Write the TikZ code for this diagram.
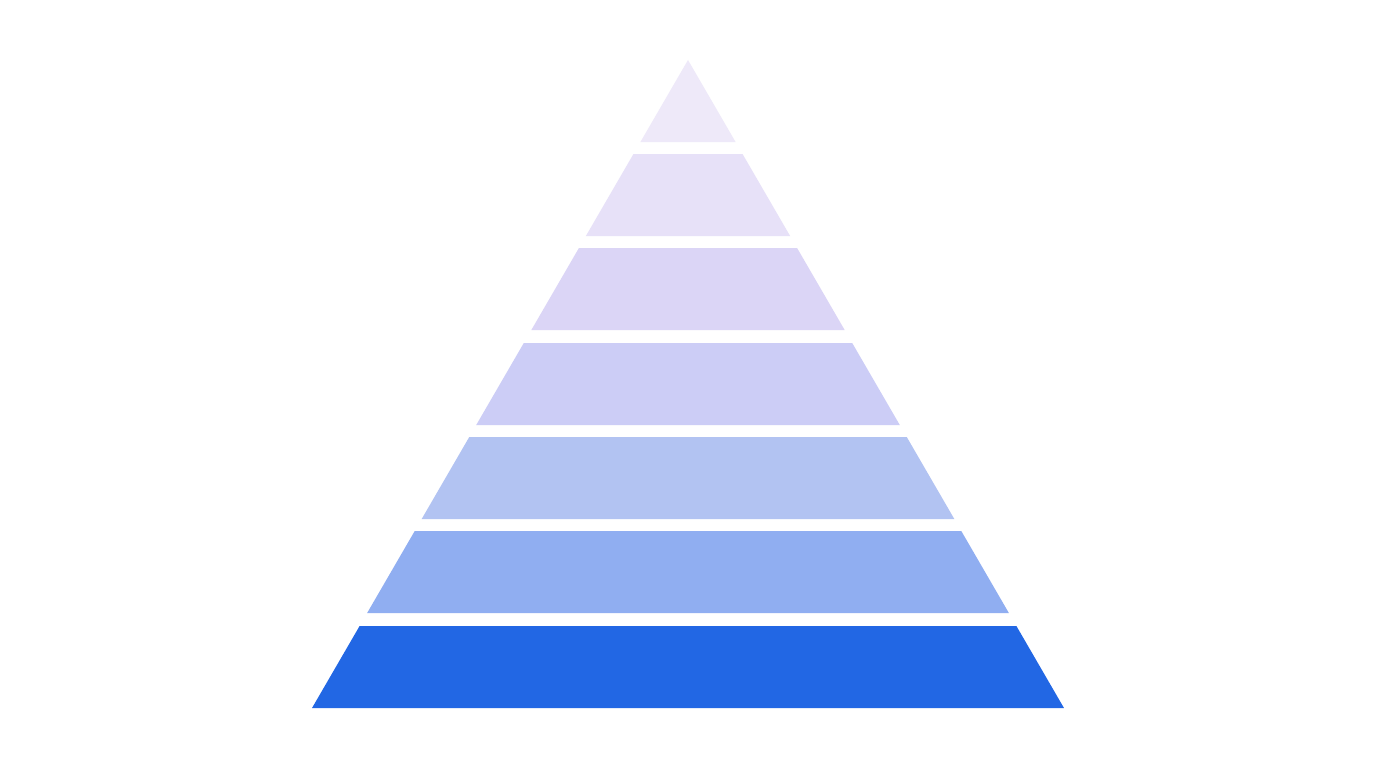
\documentclass[tikz,border=0pt]{standalone}
\definecolor{c1}{HTML}{EEE9F9}
\definecolor{c2}{HTML}{E7E1F8}
\definecolor{c3}{HTML}{DBD5F6}
\definecolor{c4}{HTML}{CCCDF6}
\definecolor{c5}{HTML}{B2C3F2}
\definecolor{c6}{HTML}{90AEF1}
\definecolor{c7}{HTML}{2267E4}
\begin{document}
\begin{tikzpicture}[x=1pt,y=-1pt, layer/.style={fill=#1, draw=none}]
\useasboundingbox (0,0) rectangle (1376,768);
\fill[white] (0,0) rectangle (1376,768);
\def\cx{688}
\def\k{0.5802}
\foreach \t/\b/\c in {60/142/c1,154/236/c2,248/330/c3,343/425/c4,437/519/c5,531/613/c6,626/708/c7}{
  \pgfmathsetmacro\wt{(\t-60)*\k}
  \pgfmathsetmacro\wb{(\b-60)*\k}
  \path[layer=\c] (\cx-\wt,\t) -- (\cx+\wt,\t) -- (\cx+\wb,\b) -- (\cx-\wb,\b) -- cycle;
}
\end{tikzpicture}
\end{document}
